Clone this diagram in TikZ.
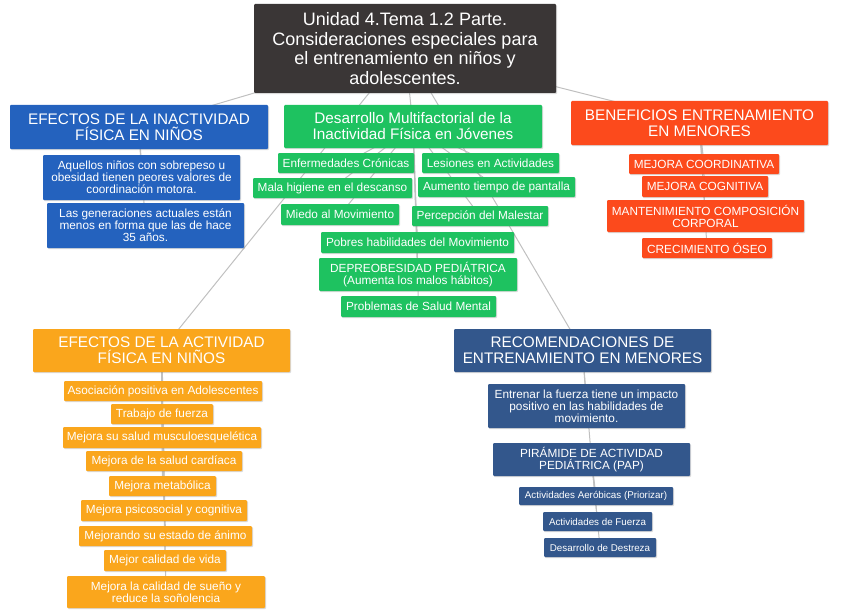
\documentclass[tikz,border=0pt]{standalone}
\usepackage{fontspec}
\setmainfont{Liberation Sans}
\usetikzlibrary{backgrounds,shadows}

\definecolor{titlegray}{RGB}{58,54,54}
\definecolor{inactblue}{RGB}{36,98,190}
\definecolor{multigreen}{RGB}{30,194,96}
\definecolor{benefred}{RGB}{252,74,28}
\definecolor{actorange}{RGB}{250,166,28}
\definecolor{recnavy}{RGB}{51,87,140}
\definecolor{linkgray}{RGB}{192,192,192}

\begin{document}
\begin{tikzpicture}[x=1pt, y=-1pt,
    box/.style={rectangle, rounded corners=1pt, text=white, align=center, inner sep=0pt,
        drop shadow={shadow xshift=1pt, shadow yshift=-1.2pt, opacity=0.3}},
    titlefont/.style={font=\fontsize{18}{19.5}\selectfont},
    bigfont/.style={font=\fontsize{15.3}{16}\selectfont},
    smallfont/.style={font=\fontsize{11.8}{12}\selectfont},
    tinyfont/.style={font=\fontsize{9.8}{10.5}\selectfont},
    link/.style={draw=linkgray, line width=1pt}]

            \useasboundingbox (0,0) rectangle (848,615);

            % Main title
            \node[box, titlefont, fill=titlegray, minimum width=302, minimum height=89] (title) at (405,48.5)
                {Unidad 4.Tema 1.2 Parte.\\Consideraciones especiales para\\el entrenamiento en niños y\\adolescentes.};

            % Headers of the five branches
            \node[box, bigfont, fill=inactblue, minimum width=258, minimum height=44] (inact) at (139,127)
                {EFECTOS DE LA INACTIVIDAD\\FÍSICA EN NIÑOS};
            \node[box, bigfont, fill=multigreen, minimum width=258, minimum height=43] (multi) at (413,126.5)
                {Desarrollo Multifactorial de la\\Inactividad Física en Jóvenes};
            \node[box, bigfont, fill=benefred, minimum width=257, minimum height=44] (benef) at (699.5,123)
                {BENEFICIOS ENTRENAMIENTO\\EN MENORES};
            \node[box, bigfont, fill=actorange, minimum width=257, minimum height=43] (act) at (161.5,350.5)
                {EFECTOS DE LA ACTIVIDAD\\FÍSICA EN NIÑOS};
            \node[box, bigfont, fill=recnavy, minimum width=257, minimum height=43] (rec) at (582.5,350.5)
                {RECOMENDACIONES DE\\ENTRENAMIENTO EN MENORES};

            % Inactivity effects
            \node[box, smallfont, fill=inactblue, minimum width=197, minimum height=45] (inact1) at (141.5,177.5)
                {Aquellos niños con sobrepeso u\\obesidad tienen peores valores de\\coordinación motora.};
            \node[box, smallfont, fill=inactblue, minimum width=197, minimum height=45] (inact2) at (145.5,225.5)
                {Las generaciones actuales están\\menos en forma que las de hace\\35 años.};

            % Multifactorial causes
            \node[box, smallfont, fill=multigreen, minimum width=136, minimum height=20] (enf) at (346,163) {Enfermedades Crónicas};
            \node[box, smallfont, fill=multigreen, minimum width=137, minimum height=20] (les) at (490.5,163) {Lesiones en Actividades};
            \node[box, smallfont, fill=multigreen, minimum width=159, minimum height=20] (mala) at (332.5,188) {Mala higiene en el descanso};
            \node[box, smallfont, fill=multigreen, minimum width=157, minimum height=20] (aum) at (496.5,187) {Aumento tiempo de pantalla};
            \node[box, smallfont, fill=multigreen, minimum width=118, minimum height=21] (miedo) at (340,214.5) {Miedo al Movimiento};
            \node[box, smallfont, fill=multigreen, minimum width=136, minimum height=20] (perc) at (480,216) {Percepción del Malestar};
            \node[box, smallfont, fill=multigreen, minimum width=193, minimum height=21] (pobres) at (417.5,242.5) {Pobres habilidades del Movimiento};
            \node[box, smallfont, fill=multigreen, minimum width=198, minimum height=33] (depre) at (418,274.5)
                {DEPREOBESIDAD PEDIÁTRICA\\(Aumenta los malos hábitos)};
            \node[box, smallfont, fill=multigreen, minimum width=155, minimum height=21] (probl) at (418.5,306.5) {Problemas de Salud Mental};

            % Benefits
            \node[box, smallfont, fill=benefred, minimum width=150, minimum height=20] (coord) at (704,164) {MEJORA COORDINATIVA};
            \node[box, smallfont, fill=benefred, minimum width=126, minimum height=21] (cogn) at (705,186.5) {MEJORA COGNITIVA};
            \node[box, smallfont, fill=benefred, minimum width=197, minimum height=32] (mant) at (705.5,216)
                {MANTENIMIENTO COMPOSICIÓN\\CORPORAL};
            \node[box, smallfont, fill=benefred, minimum width=130, minimum height=20] (oseo) at (707,248) {CRECIMIENTO ÓSEO};

            % Activity effects
            \node[box, smallfont, fill=actorange, minimum width=198, minimum height=20] (asoc) at (163,391) {Asociación positiva en Adolescentes};
            \node[box, smallfont, fill=actorange, minimum width=102, minimum height=20] (trab) at (162,414) {Trabajo de fuerza};
            \node[box, smallfont, fill=actorange, minimum width=198, minimum height=21] (musc) at (162,437.5) {Mejora su salud musculoesquelética};
            \node[box, smallfont, fill=actorange, minimum width=156, minimum height=20] (card) at (164,461) {Mejora de la salud cardíaca};
            \node[box, smallfont, fill=actorange, minimum width=107, minimum height=20] (meta) at (162.5,486) {Mejora metabólica};
            \node[box, smallfont, fill=actorange, minimum width=166, minimum height=21] (psico) at (164,510.5) {Mejora psicosocial y cognitiva};
            \node[box, smallfont, fill=actorange, minimum width=173, minimum height=20] (animo) at (165.5,536) {Mejorando su estado de ánimo};
            \node[box, smallfont, fill=actorange, minimum width=122, minimum height=21] (vida) at (165,560.5) {Mejor calidad de vida};
            \node[box, smallfont, fill=actorange, minimum width=198, minimum height=32] (sueno) at (166,592)
                {Mejora la calidad de sueño y\\reduce la soñolencia};

            % Recommendations
            \node[box, smallfont, fill=recnavy, minimum width=197, minimum height=44] (recfza) at (586.5,406)
                {Entrenar la fuerza tiene un impacto\\positivo en las habilidades de\\movimiento.};
            \node[box, smallfont, fill=recnavy, minimum width=197, minimum height=33] (pap) at (591.5,459.5)
                {PIRÁMIDE DE ACTIVIDAD\\PEDIÁTRICA (PAP)};
            \node[box, tinyfont, fill=recnavy, minimum width=154, minimum height=18] (aero) at (596,496) {Actividades Aeróbicas (Priorizar)};
            \node[box, tinyfont, fill=recnavy, minimum width=109, minimum height=19] (fza) at (597.5,521.5) {Actividades de Fuerza};
            \node[box, tinyfont, fill=recnavy, minimum width=112, minimum height=19] (dest) at (600,547.5) {Desarrollo de Destreza};

            % Connectors, behind the boxes
            \begin{scope}[on background layer]
                \foreach \h in {inact, multi, benef, act, rec}
                    \draw[link] (title.center) -- (\h.center);
                \foreach \c in {inact1, inact2}
                    \draw[link] (inact.center) -- (\c.center);
                \foreach \c in {enf, les, mala, aum, miedo, perc, pobres, depre, probl}
                    \draw[link] (multi.center) -- (\c.center);
                \foreach \c in {coord, cogn, mant, oseo}
                    \draw[link] (benef.center) -- (\c.center);
                \foreach \c in {asoc, trab, musc, card, meta, psico, animo, vida, sueno}
                    \draw[link] (act.center) -- (\c.center);
                \foreach \c in {recfza, pap}
                    \draw[link] (rec.center) -- (\c.center);
                \foreach \c in {aero, fza, dest}
                    \draw[link] (pap.center) -- (\c.center);
            \end{scope}
        \end{tikzpicture}
\end{document}
